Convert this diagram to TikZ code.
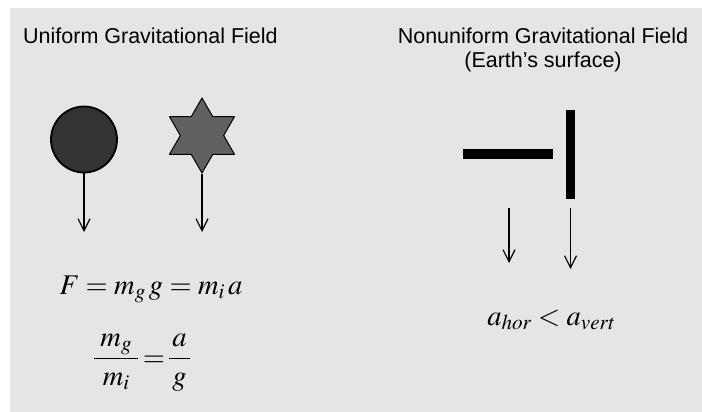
\documentclass[tikz,border=0pt]{standalone}
\usepackage{mathptmx}
\usepackage[no-math]{fontspec}
\setmainfont{Liberation Sans}
\usetikzlibrary{arrows.meta,shapes.geometric}

\begin{document}
\begin{tikzpicture}[x=1pt, y=-1pt, line join=round,
  titletext/.style={font=\fontsize{21.5}{24}\selectfont, inner sep=0pt},
  mathtext/.style={font=\fontsize{28.5}{34}\selectfont, inner sep=0pt},
  fallarrow/.style={line width=1.2pt, -{Straight Barb[length=12pt, width=12pt, line width=1.2pt]}},
  barbox/.style={fill=black, inner sep=0pt}]

% ----------------------------
% CANVAS
% ----------------------------
\useasboundingbox (0,0) rectangle (702,412);
\fill[white] (0,0) rectangle (702,412);
\fill[black!10] (10,8) rectangle (702,412);

% ----------------------------
% TITLES
% ----------------------------
\node[titletext, anchor=base west] (uniform) at (23,44) {Uniform Gravitational Field};
\node[titletext, anchor=base] (nonuniform) at (543,44) {Nonuniform Gravitational Field};
\node[titletext, anchor=base] (earth) at (543,68) {(Earth's surface)};

% ----------------------------
% UNIFORM FIELD: ball and star
% ----------------------------
\node[circle, minimum size=66pt, inner sep=0pt, draw=black, line width=1.8pt,
      fill=black!80] (ball) at (84,139.5) {};
\node[star, star points=6, star point ratio=1.732, minimum size=75pt, inner sep=0pt,
      draw=black, line width=1pt, fill=black!62] (hexstar) at (202,135.5) {};

\coordinate (ballend) at (84,232);
\coordinate (starend) at (202,232);
\draw[fallarrow] (ball.south) -- (ballend);
\draw[fallarrow] (hexstar.south) -- (starend);

% equations
\node[mathtext, anchor=base] (force) at (151,294) {$F = m_g\, g = m_i\, a$};
\node[mathtext, anchor=base] (ratio) at (142,366)
  {$\displaystyle\frac{\;m_g\;}{\;m_i\;} \!=\! \frac{\,a\,}{\,g\,}$};

% ----------------------------
% NONUNIFORM FIELD: two rods
% ----------------------------
\node[barbox, minimum width=90pt, minimum height=10pt] (hbar) at (508,154) {};
\node[barbox, minimum width=9.5pt, minimum height=89pt] (vbar) at (570.5,154.5) {};

\coordinate (hortop) at (509,208);
\coordinate (horend) at (509,263);
\coordinate (verttop) at (570.5,208);
\coordinate (vertend) at (570.5,269);
\draw[fallarrow] (hortop) -- (horend);
\draw[fallarrow] (verttop) -- (vertend);

\node[mathtext, anchor=base] (compare) at (551.5,325) {$a_{hor} < a_{vert}$};

\end{tikzpicture}
\end{document}
